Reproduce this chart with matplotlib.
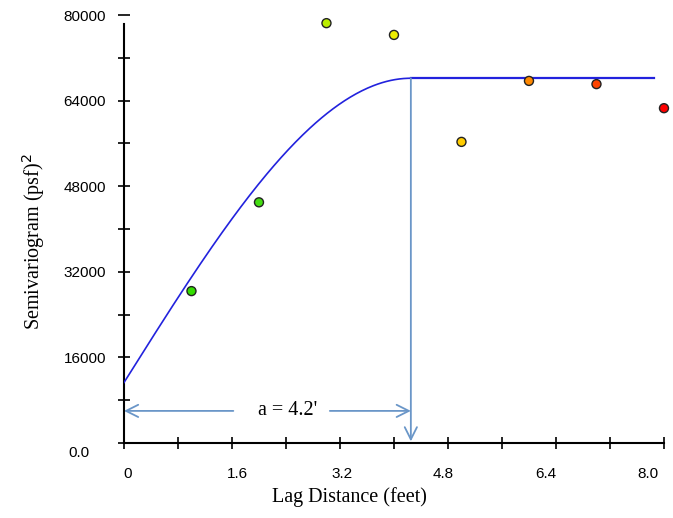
import numpy as np
import matplotlib
matplotlib.use("Agg")
import matplotlib.pyplot as plt
import matplotlib.transforms as mtransforms

# experimental semivariogram points
lag = [1.0, 2.0, 3.0, 4.0, 5.0, 6.0, 7.0, 8.0]
gamma = [28400, 45000, 78500, 76300, 56300, 67700, 67100, 62600]
pt_colors = ['#33dd00', '#44dd11', '#bbee00', '#eeee00', '#ffcc00', '#ff8800', '#ff4400', '#ff0000']

# spherical model
nugget = 11300
sill = 68200
a_range = 4.25
x_end = 7.85

xticks = [0, 0.8, 1.6, 2.4, 3.2, 4.0, 4.8, 5.6, 6.4, 7.2, 8.0]
xticklabels = ['0', '', '1.6', '', '3.2', '', '4.8', '', '6.4', '', '8.0']
yticks = [0, 8000, 16000, 24000, 32000, 40000, 48000, 56000, 64000, 72000, 80000]
yticklabels = ['', '', '16000', '', '32000', '', '48000', '', '64000', '', '80000']
# the original labels drift a little left of their ticks (pixels)
xlabel_shift = [4, 0, 5, 0, 2, 0, -5, 0, -10, 0, -16]

arrow_col = '#6a96c8'

fig = plt.figure(figsize=(6.73, 5.18), dpi=100)
ax = fig.add_axes([0.1842, 0.1448, 0.8024, 0.826])

h = np.linspace(0, a_range, 200)
model = nugget + (sill - nugget) * (1.5 * h / a_range - 0.5 * (h / a_range) ** 3)
ax.plot(h, model, color='#2222dd', lw=1.2, zorder=3)
ax.plot([a_range, x_end], [sill, sill], color='#2222dd', lw=1.6, zorder=3)

ax.scatter(lag, gamma, s=42, c=pt_colors, edgecolors='#222222', linewidths=1.0,
           zorder=5, clip_on=False)

# range arrows
ax.annotate('', xy=(a_range, 300), xytext=(a_range, sill),
            arrowprops=dict(arrowstyle='->', color=arrow_col, lw=1.3,
                            mutation_scale=22, shrinkA=0, shrinkB=0))
ax.annotate('', xy=(0, 6000), xytext=(1.62, 6000),
            arrowprops=dict(arrowstyle='->', color=arrow_col, lw=1.3,
                            mutation_scale=22, shrinkA=0, shrinkB=0))
ax.annotate('', xy=(a_range, 6000), xytext=(3.05, 6000),
            arrowprops=dict(arrowstyle='->', color=arrow_col, lw=1.3,
                            mutation_scale=22, shrinkA=0, shrinkB=0))
ax.text(2.42, 6000, "a = 4.2'", ha='center', va='center', fontsize=14.5,
        family='Liberation Serif')

ax.set_xlim(0, 8.0)
ax.set_ylim(0, 80000)
ax.set_xticks(xticks)
ax.set_xticklabels(xticklabels, family='Liberation Sans', fontsize=11)
ax.set_yticks(yticks)
ax.set_yticklabels(yticklabels, family='Liberation Sans', fontsize=11)
ax.tick_params(axis='x', direction='inout', length=8, width=1.2, pad=13)
ax.tick_params(axis='y', direction='inout', length=8, width=1.2, pad=9)
for lbl, dx in zip(ax.get_xticklabels(), xlabel_shift):
    lbl.set_transform(lbl.get_transform() +
                      mtransforms.ScaledTranslation(dx / 100, 0, fig.dpi_scale_trans))
ax.text(-0.67, -1800, '0.0', ha='center', va='center', fontsize=11,
        family='Liberation Sans')

for s in ['top', 'right']:
    ax.spines[s].set_visible(False)
for s in ['left', 'bottom']:
    ax.spines[s].set_linewidth(1.5)
ax.spines['left'].set_bounds(0, 78400)

ax.set_xlabel('Lag Distance (feet)', family='Liberation Serif', fontsize=14.5)
ax.xaxis.set_label_coords(0.418, -0.103)
ax.set_ylabel('Semivariogram (psf)$^2$', family='Liberation Serif', fontsize=14.5)
ax.yaxis.set_label_coords(-0.143, 0.47)

fig.savefig('out.png', dpi=100)
